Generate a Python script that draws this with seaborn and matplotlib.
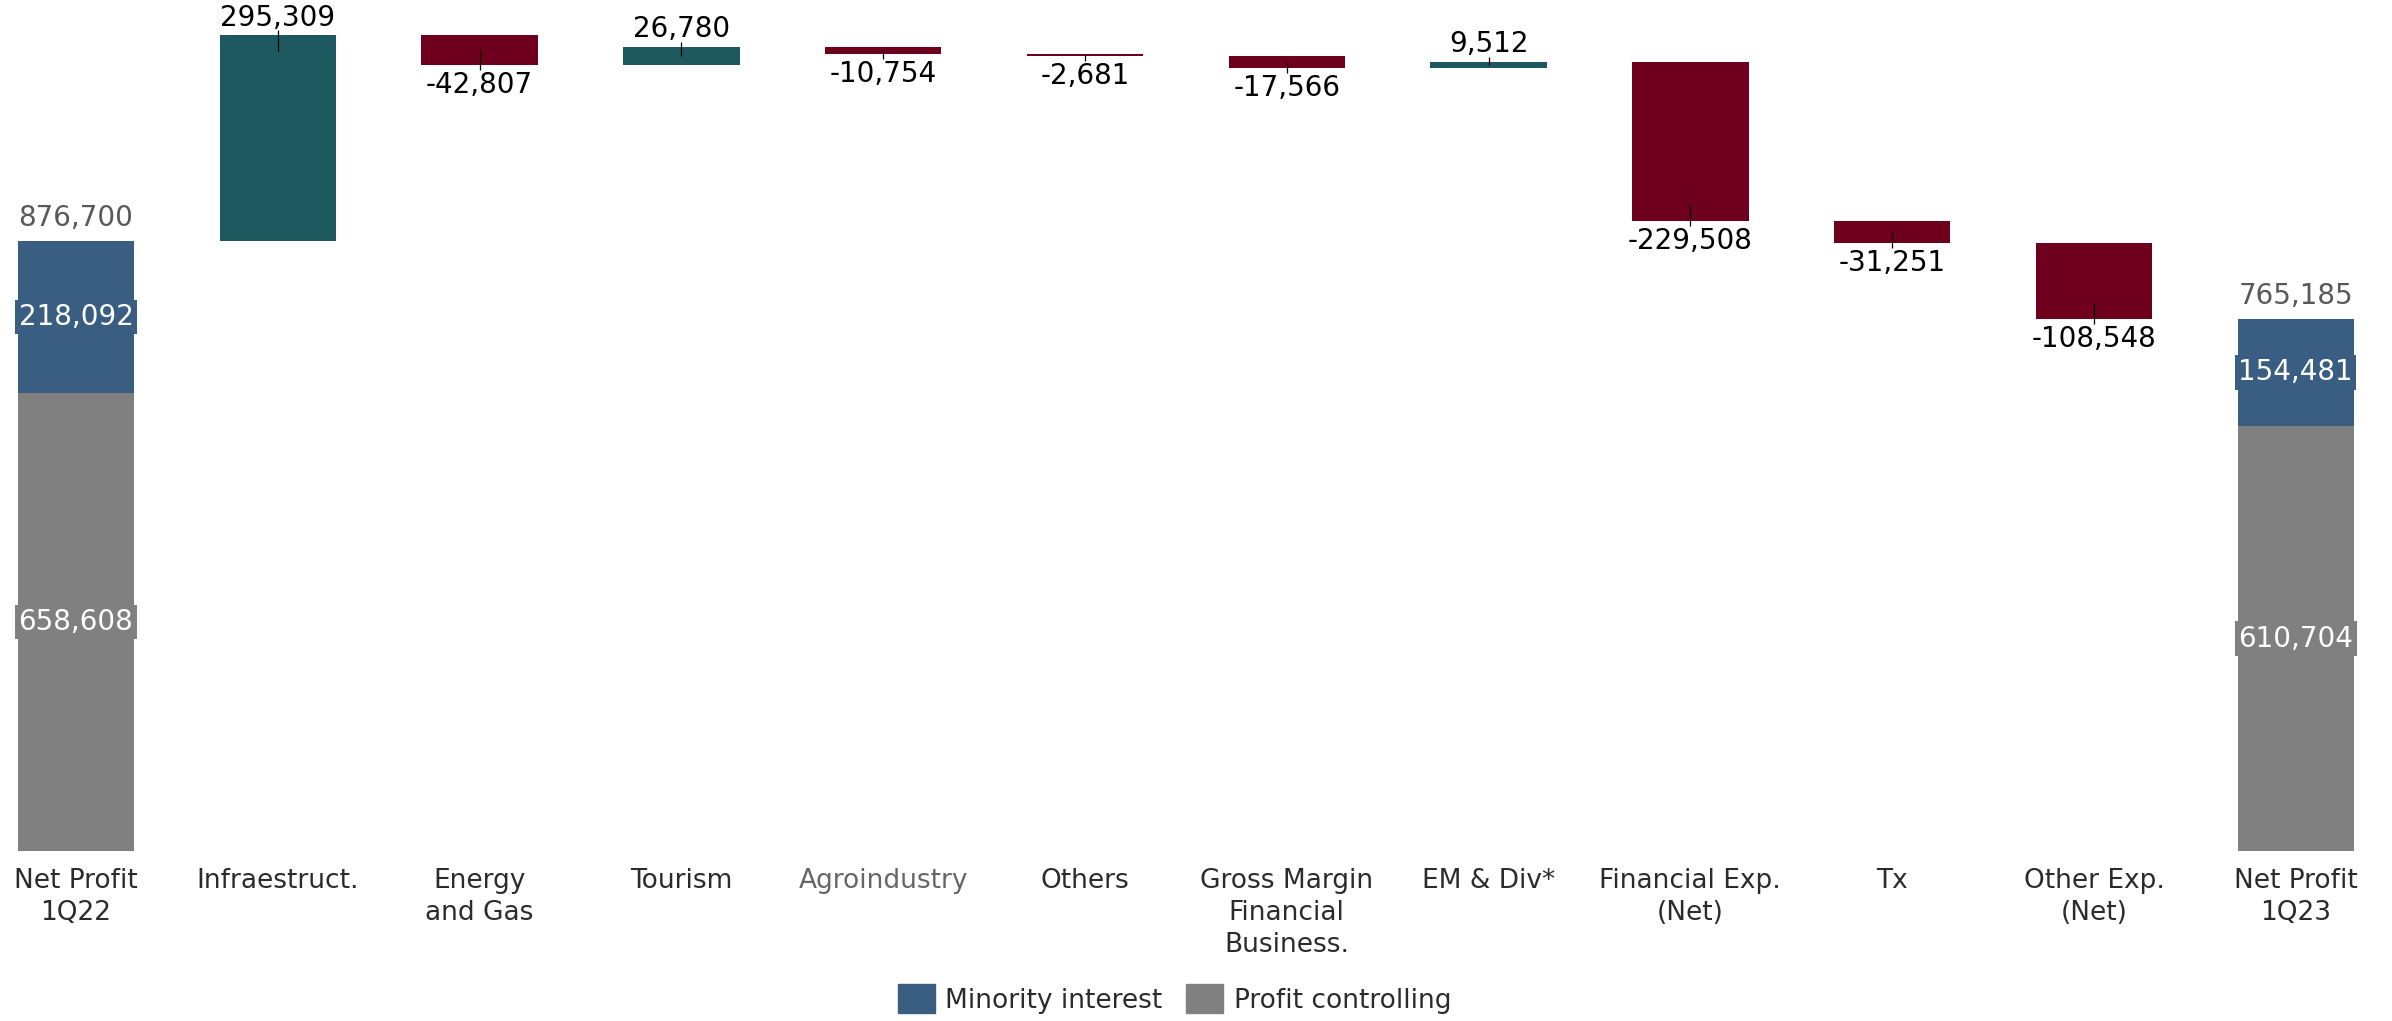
import matplotlib
matplotlib.use("Agg")
import matplotlib.pyplot as plt
import matplotlib.patches as mpatches
import numpy as np
import pandas as pd
import seaborn as sns

# Categories along the x axis
categories = [
    "Net Profit\n1Q22", "Infraestruct.", "Energy\nand Gas", "Tourism",
    "Agroindustry", "Others", "Gross Margin\nFinancial\nBusiness.", "EM & Div*",
    "Financial Exp.\n(Net)", "Tx", "Other Exp.\n(Net)", "Net Profit\n1Q23",
]

# Opening / closing net profit split
total_labels = ["Net Profit\n1Q22", "Net Profit\n1Q23"]
minority_interest = [218092, 154481]
profit_controlling = [658608, 610704]

# Variations between the two periods
delta_labels = categories[1:-1]
delta_values = [295309, -42807, 26780, -10754, -2681, -17566, 9512,
                -229508, -31251, -108548]

C_MINORITY = "#3A5E82"
C_CONTROL = "#808080"
C_UP = "#1F5960"
C_DOWN = "#6E001E"

sns.set_theme(style="white")
plt.rcParams["font.family"] = ["DejaVu Sans"]

fig = plt.figure(figsize=(23.92, 10.21), dpi=100)
ax = fig.add_axes([0, 0.1665, 1, 0.8335])

totals = [m + c for m, c in zip(minority_interest, profit_controlling)]
df_tot = pd.DataFrame({"cat": total_labels, "total": totals,
                       "controlling": profit_controlling})

bar_w = 0.577
# stacked end bars: full height in blue, controlling part in grey on top
sns.barplot(data=df_tot, x="cat", y="total", order=categories, color=C_MINORITY,
            width=bar_w, errorbar=None, saturation=1, ax=ax, linewidth=0)
sns.barplot(data=df_tot, x="cat", y="controlling", order=categories, color=C_CONTROL,
            width=bar_w, errorbar=None, saturation=1, ax=ax, linewidth=0)

# floating waterfall bars
starts = np.concatenate([[totals[0]], totals[0] + np.cumsum(delta_values)[:-1]])
ends = starts + np.array(delta_values)
xpos = np.array([categories.index(c) for c in delta_labels])
colors = [C_UP if v > 0 else C_DOWN for v in delta_values]
ax.bar(xpos, delta_values, bottom=starts, width=bar_w, color=colors, linewidth=0)

upp = 1437.2  # data units per pixel
for x, s, e, v in zip(xpos, starts, ends, delta_values):
    sgn = 1 if v > 0 else -1
    inward = min(abs(v) / 2, 16 * upp)
    ax.vlines(x, e - sgn * inward, e + sgn * 5 * upp, color="black", lw=0.9)
    ax.annotate(f"{v:,}", (x, e), xytext=(0, 12.5 if v > 0 else -14.5),
                textcoords="offset points", ha="center", va="center",
                fontsize=20, color="black")

# labels on end bars
for lab, m, c in zip(total_labels, minority_interest, profit_controlling):
    x = categories.index(lab)
    tot = m + c
    ax.annotate(f"{tot:,}", (x, tot), xytext=(0, 16.5), textcoords="offset points",
                ha="center", va="center", fontsize=20, color="#595959")
    ax.text(x, c + m / 2, f"{m:,}", ha="center", va="center", fontsize=20,
            color="white",
            bbox=dict(boxstyle="square,pad=0.12", fc=C_MINORITY, ec="none"))
    ax.text(x, c / 2, f"{c:,}", ha="center", va="center", fontsize=20,
            color="white",
            bbox=dict(boxstyle="square,pad=0.12", fc=C_CONTROL, ec="none"))

ax.set_xlim(-0.3766, 11.477)
ax.set_ylim(0, 1223000)
ax.set_yticks([])
ax.set_xlabel("")
ax.set_ylabel("")
for sp in ax.spines.values():
    sp.set_visible(False)
ax.set_xticks(range(len(categories)))
ax.set_xticklabels(categories, fontsize=19, linespacing=1.3, color="#2b2b2b")
for t in ax.get_xticklabels():
    if t.get_text() == "Agroindustry":
        t.set_color("#666666")
ax.tick_params(axis="x", length=0, pad=12)

handles = [mpatches.Patch(color=C_MINORITY, label="Minority interest"),
           mpatches.Patch(color=C_CONTROL, label="Profit controlling")]
fig.legend(handles=handles, loc="lower center", bbox_to_anchor=(0.491, -0.016),
           ncol=2, frameon=False, fontsize=19, handlelength=1.4,
           handleheight=1.3, handletextpad=0.4, columnspacing=0.9,
           labelcolor="#2b2b2b")

fig.savefig("out.png", dpi=100)
